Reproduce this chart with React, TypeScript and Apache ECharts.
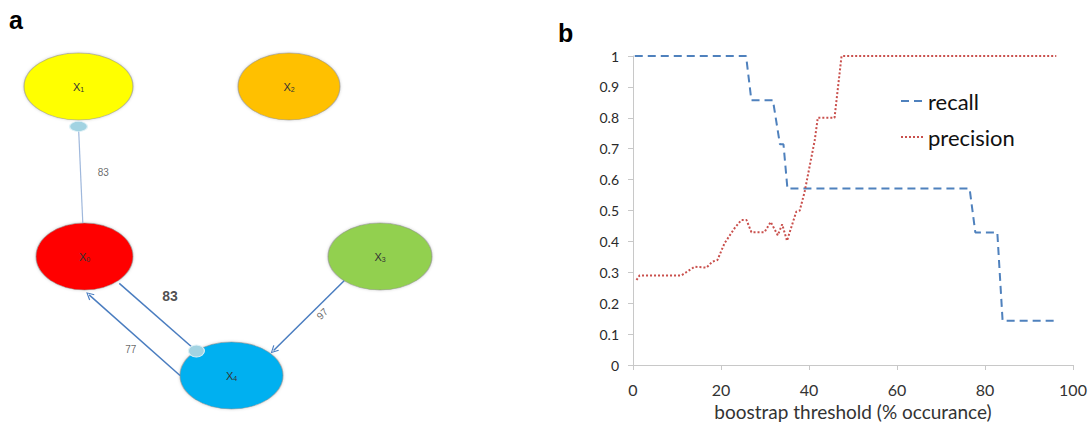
import React, { useEffect, useRef } from 'react';
import * as echarts from 'echarts';

// ---- Panel a: network of variables (layout in panel units) ----
const nodeNames = ['X1', 'X2', 'X0', 'X3', 'X4'];
const nodeSubs = ['1', '2', '0', '3', '4'];
const nodeCenterX = [78.5, 289, 84.5, 380, 231.5];
const nodeCenterY = [86.5, 86.5, 256.5, 256.5, 375.5];
const nodeRadiusX = [54.5, 51, 48.5, 52, 51.5];
const nodeRadiusY = [33.5, 33.5, 33.5, 33.5, 33.5];
const nodeColors = ['#ffff00', '#ffc000', '#ff0000', '#92d050', '#00b0f0'];

// Edges with bootstrap support (%), attached to node outlines by angle (deg)
const edgeFrom = ['X0', 'X0', 'X4', 'X3'];
const edgeTo = ['X1', 'X4', 'X0', 'X4'];
const edgeWeights = [83, 83, 77, 97];
const edgeFromAngle = [268, 47.5, 180, 133.6];
const edgeFromGap = [0, 3, 0, 0];
const edgeToAngle = [90, 227, 85, 318.7];
const edgeToGap = [6.5, 0, 5, 4.5];
const edgeHead = ['circle', 'circle', 'arrow', 'arrow'];

// ---- Panel b: recall / precision vs bootstrap threshold ----
const recallX = [0.4, 25.7, 26.9, 31.8, 33.4, 34.2, 35.1, 76.5, 77.8, 82.8, 84, 96.2];
const recallY = [1, 1, 0.857, 0.857, 0.714, 0.714, 0.571, 0.571, 0.429, 0.429, 0.143, 0.143];
const precisionX = [0.8, 1.5, 11, 14, 16.7, 18, 19.2, 20.8, 23.1, 24.6, 25.8, 26.9, 29.9, 31.3, 32.9, 33.9, 35, 37.1, 37.9, 39, 41.3, 42, 45.8, 47.4, 96.2];
const precisionY = [0.275, 0.29, 0.29, 0.318, 0.315, 0.334, 0.34, 0.394, 0.443, 0.469, 0.469, 0.43, 0.43, 0.463, 0.42, 0.455, 0.402, 0.496, 0.5, 0.56, 0.727, 0.8, 0.8, 1, 1];
const seriesNames = ['recall', 'precision'];
const xAxisTitle = 'boostrap threshold (% occurance)';

// Styling
const ELLIPSE = 'path://M0,50A50,50,0,1,1,100,50A50,50,0,1,1,0,50Z';
const CHEVRON = 'path://M0,10L5,0L10,10L8.6,10.7L5,2.8L1.4,10.7Z';
const edgeColors = ['#9fb8dc', '#4a7dc0', '#4a7dc0', '#4a7dc0'];
const edgeWidths = [1.2, 1.5, 1.5, 1.5];
const edgeLabelDx = [22.7, 12.1, -3.8, 13.4];
const edgeLabelDy = [-1.8, -20.9, 14.1, -1.8];
const edgeLabelRotate = [0, 0, 0, 45];
const edgeLabelBold = [false, true, false, false];
const portSizes = [[18, 10], [16, 12], [0, 0], [0, 0]];
const ARIAL = '"Liberation Sans", Arial, sans-serif';
const CALIBRI = 'Lato, "Noto Sans", sans-serif';

function port(name: string, angleDeg: number, gap: number): number[] {
  const i = nodeNames.indexOf(name);
  const t = (angleDeg * Math.PI) / 180;
  const c = Math.cos(t);
  const s = Math.sin(t);
  return [
    nodeCenterX[i] + nodeRadiusX[i] * c + gap * c,
    nodeCenterY[i] + nodeRadiusY[i] * s + gap * s,
  ];
}

function buildOption() {
  const edgeStart = edgeFrom.map((n, k) => port(n, edgeFromAngle[k], edgeFromGap[k]));
  const edgeEnd = edgeTo.map((n, k) => port(n, edgeToAngle[k], edgeToGap[k]));

  const nodeData = nodeNames.map((name, i) => ({
    name,
    value: [nodeCenterX[i], nodeCenterY[i]],
    symbolSize: [nodeRadiusX[i] * 2, nodeRadiusY[i] * 2],
    itemStyle: { color: nodeColors[i] },
  }));

  const edgeData = edgeWeights.map((w, k) => ({
    name: `${edgeFrom[k]}-${edgeTo[k]}`,
    value: w,
    coords: [edgeStart[k], edgeEnd[k]],
    lineStyle: { color: edgeColors[k], width: edgeWidths[k], opacity: 1 },
    symbol: ['none', edgeHead[k] === 'arrow' ? CHEVRON : 'none'],
    symbolSize: 8,
  }));

  const portData = edgeWeights
    .map((_, k) => k)
    .filter((k) => edgeHead[k] === 'circle')
    .map((k) => ({ value: edgeEnd[k], symbolSize: portSizes[k] }));

  const weightData = edgeWeights.map((w, k) => ({
    value: [
      (edgeStart[k][0] + edgeEnd[k][0]) / 2 + edgeLabelDx[k],
      (edgeStart[k][1] + edgeEnd[k][1]) / 2 + edgeLabelDy[k],
    ],
    label: {
      rotate: edgeLabelRotate[k],
      fontWeight: edgeLabelBold[k] ? 'bold' : 'normal',
      fontSize: edgeLabelBold[k] ? 14 : 10,
      color: edgeLabelBold[k] ? '#222' : '#444',
    },
  }));

  return {
    animation: false,
    backgroundColor: '#ffffff',
    graphic: [
      { type: 'text', left: 9, top: 7, style: { text: 'a', font: `bold 25px ${ARIAL}`, fill: '#000' } },
      { type: 'text', left: 558, top: 20, style: { text: 'b', font: `bold 25px ${ARIAL}`, fill: '#000' } },
    ],
    legend: {
      data: seriesNames,
      orient: 'vertical',
      left: 895,
      top: 85,
      itemWidth: 22,
      itemHeight: 14,
      itemGap: 14,
      itemStyle: { opacity: 0 },
      textStyle: { fontFamily: CALIBRI, fontSize: 22, color: '#111' },
    },
    grid: [
      { left: 0, top: 0, width: 450, height: 423, outerBoundsMode: 'none' },
      { left: 633, top: 56, width: 440, height: 309, outerBoundsMode: 'none' },
    ],
    xAxis: [
      { type: 'value', gridIndex: 0, min: 0, max: 450, show: false },
      {
        type: 'value',
        gridIndex: 1,
        min: 0,
        max: 100,
        interval: 20,
        splitLine: { show: false },
        axisLine: { show: true, lineStyle: { color: '#c8c8c8', width: 1 } },
        axisTick: { show: true, length: 5, lineStyle: { color: '#c8c8c8' } },
        axisLabel: { fontFamily: CALIBRI, fontSize: 16, color: '#333', margin: 16 },
        name: xAxisTitle,
        nameLocation: 'middle',
        nameGap: 35,
        nameTextStyle: { fontFamily: CALIBRI, fontSize: 19, color: '#333' },
      },
    ],
    yAxis: [
      { type: 'value', gridIndex: 0, min: 0, max: 423, inverse: true, show: false },
      {
        type: 'value',
        gridIndex: 1,
        min: 0,
        max: 1,
        interval: 0.1,
        splitLine: { show: false },
        axisLine: { show: true, lineStyle: { color: '#c8c8c8', width: 1 } },
        axisTick: { show: true, length: 5, lineStyle: { color: '#c8c8c8' } },
        axisLabel: { fontFamily: CALIBRI, fontSize: 14, color: '#2a2a2a', margin: 14 },
      },
    ],
    series: [
      {
        name: 'nodes',
        type: 'scatter',
        xAxisIndex: 0,
        yAxisIndex: 0,
        z: 2,
        symbol: ELLIPSE,
        data: nodeData,
        itemStyle: {
          opacity: 1,
          borderColor: 'rgba(140,140,140,0.55)',
          borderWidth: 1,
          shadowColor: 'rgba(0,0,0,0.18)',
          shadowBlur: 3,
        },
        label: {
          show: true,
          position: 'inside',
          formatter: (p: any) => `{x|X}{s|${nodeSubs[p.dataIndex]}}`,
          rich: {
            x: { fontFamily: ARIAL, fontSize: 11, color: '#333', lineHeight: 12, verticalAlign: 'bottom' },
            s: { fontFamily: ARIAL, fontSize: 7, color: '#333', lineHeight: 5, verticalAlign: 'bottom' },
          },
        },
      },
      {
        name: 'edges',
        type: 'lines',
        coordinateSystem: 'cartesian2d',
        xAxisIndex: 0,
        yAxisIndex: 0,
        z: 3,
        data: edgeData,
      },
      {
        name: 'ports',
        type: 'scatter',
        xAxisIndex: 0,
        yAxisIndex: 0,
        z: 4,
        symbol: ELLIPSE,
        data: portData,
        itemStyle: { opacity: 1, color: '#a2d3e2', borderColor: '#dff1f6', borderWidth: 1 },
      },
      {
        name: 'weights',
        type: 'scatter',
        xAxisIndex: 0,
        yAxisIndex: 0,
        z: 5,
        symbolSize: 1,
        data: weightData,
        itemStyle: { color: 'rgba(0,0,0,0)' },
        label: {
          show: true,
          position: 'inside',
          fontFamily: ARIAL,
          formatter: (p: any) => String(edgeWeights[p.dataIndex]),
        },
      },
      {
        name: seriesNames[0],
        type: 'line',
        xAxisIndex: 1,
        yAxisIndex: 1,
        symbol: 'none',
        data: recallX.map((x, i) => [x, recallY[i]]),
        lineStyle: { color: '#4f81bd', width: 2, type: [8, 5] },
        itemStyle: { color: '#4f81bd' },
      },
      {
        name: seriesNames[1],
        type: 'line',
        xAxisIndex: 1,
        yAxisIndex: 1,
        symbol: 'none',
        data: precisionX.map((x, i) => [x, precisionY[i]]),
        lineStyle: { color: '#c9504d', width: 2, type: [2, 2] },
        itemStyle: { color: '#c9504d' },
      },
    ],
  };
}

export default function App() {
  const ref = useRef<HTMLDivElement>(null);
  useEffect(() => {
    if (!ref.current) return;
    const chart = echarts.init(ref.current, undefined, { renderer: 'svg' });
    chart.setOption(buildOption() as any);
    return () => chart.dispose();
  }, []);
  return (
    <div
      ref={ref}
      style={{ position: 'absolute', left: 0, top: 0, width: 1089, height: 423, background: '#fff' }}
    />
  );
}
